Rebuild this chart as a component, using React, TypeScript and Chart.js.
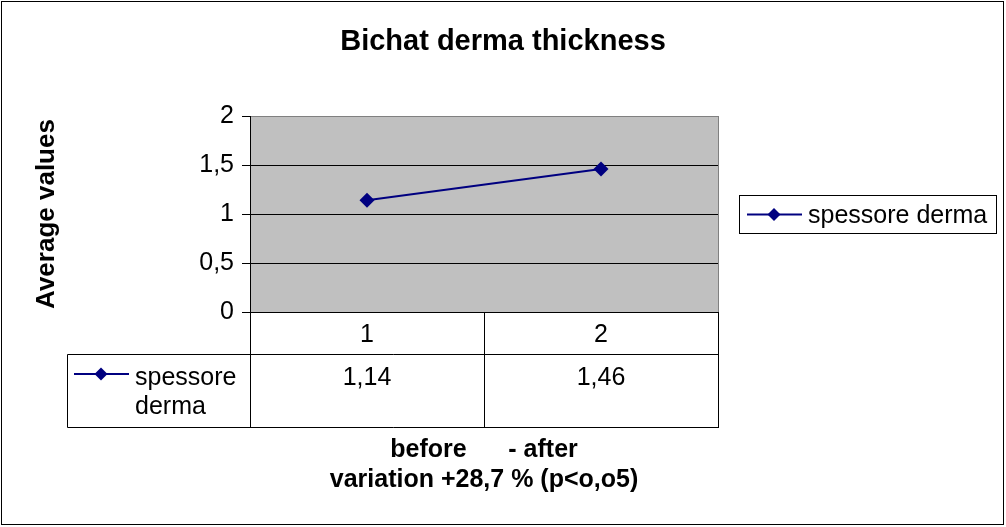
import React, { useEffect, useRef } from "react";
import { Chart, registerables } from "chart.js";

Chart.register(...registerables);

const TITLE = "Bichat derma thickness";
const Y_TITLE = "Average values";
const X_TITLE_LINES = ["before      - after", "variation +28,7 % (p<o,o5)"];
const CATEGORIES = ["1", "2"];
const SERIES_NAME = "spessore derma";
const SERIES_TABLE_LINES = ["spessore", "derma"];
const SERIES_VALUES = [1.14, 1.46];
const Y_MIN = 0;
const Y_MAX = 2;
const Y_STEP = 0.5;

const FONT = "'Liberation Sans', Arial, sans-serif";
const NAVY = "#000080";

const fmt = (v: number) => String(v).replace(".", ",");

function drawMarker(ctx: CanvasRenderingContext2D, x1: number, x2: number, y: number, cx: number, r: number) {
  ctx.save();
  ctx.strokeStyle = NAVY;
  ctx.lineWidth = 2;
  ctx.beginPath();
  ctx.moveTo(x1, y);
  ctx.lineTo(x2, y);
  ctx.stroke();
  ctx.fillStyle = NAVY;
  ctx.beginPath();
  ctx.moveTo(cx, y - r);
  ctx.lineTo(cx + r, y);
  ctx.lineTo(cx, y + r);
  ctx.lineTo(cx - r, y);
  ctx.closePath();
  ctx.fill();
  ctx.restore();
}

const decorPlugin = {
  id: "decor",
  beforeDraw(chart: any) {
    const { ctx, chartArea: a, width, height } = chart;
    ctx.save();
    ctx.fillStyle = "#ffffff";
    ctx.fillRect(0, 0, width, height);
    ctx.fillStyle = "#C0C0C0";
    ctx.fillRect(a.left, a.top, a.right - a.left, a.bottom - a.top);
    ctx.restore();
  },
  afterDraw(chart: any) {
    const { ctx, chartArea: a, width } = chart;
    const xs = chart.scales.x;
    ctx.save();

    // plot area right border (gray)
    ctx.strokeStyle = "#808080";
    ctx.lineWidth = 1;
    ctx.beginPath();
    ctx.moveTo(a.right + 0.5, a.top);
    ctx.lineTo(a.right + 0.5, a.bottom);
    ctx.stroke();

    // data table
    const rowSplit = 354.5;
    const tableBottom = 427.5;
    const tableLeft = 67.5;
    const mid = Math.round((xs.getPixelForValue(0) + xs.getPixelForValue(1)) / 2) + 0.5;
    ctx.strokeStyle = "#000";
    ctx.beginPath();
    ctx.moveTo(a.left + 0.5, a.bottom);
    ctx.lineTo(a.left + 0.5, tableBottom);
    ctx.moveTo(mid, a.bottom);
    ctx.lineTo(mid, tableBottom);
    ctx.moveTo(a.right + 0.5, a.bottom);
    ctx.lineTo(a.right + 0.5, tableBottom);
    ctx.moveTo(tableLeft, rowSplit);
    ctx.lineTo(tableLeft, tableBottom);
    ctx.moveTo(tableLeft, rowSplit);
    ctx.lineTo(a.right + 1, rowSplit);
    ctx.moveTo(tableLeft, tableBottom);
    ctx.lineTo(a.right + 1, tableBottom);
    ctx.stroke();

    ctx.fillStyle = "#000";
    ctx.font = `25px ${FONT}`;
    ctx.textAlign = "center";
    ctx.textBaseline = "alphabetic";
    CATEGORIES.forEach((c, i) => {
      const x = xs.getPixelForValue(i);
      ctx.fillText(c, x, 342);
      ctx.fillText(fmt(SERIES_VALUES[i]), x, 385);
    });
    ctx.textAlign = "left";
    ctx.fillText(SERIES_TABLE_LINES[0], 135, 385);
    ctx.fillText(SERIES_TABLE_LINES[1], 135, 414);
    drawMarker(ctx, 74, 129, 374, 101, 6.5);

    // legend
    ctx.strokeStyle = "#000";
    ctx.lineWidth = 1;
    ctx.strokeRect(739.5, 195.5, 257, 38);
    drawMarker(ctx, 747, 802, 214.5, 774, 6.5);
    ctx.fillStyle = "#000";
    ctx.font = `25px ${FONT}`;
    ctx.textAlign = "left";
    ctx.fillText(SERIES_NAME, 808, 223);

    // titles
    ctx.font = `bold 29px ${FONT}`;
    ctx.textAlign = "center";
    ctx.fillText(TITLE, width / 2, 50);

    ctx.font = `bold 25px ${FONT}`;
    const cx = (a.left + a.right) / 2;
    ctx.fillText(X_TITLE_LINES[0], cx, 457);
    ctx.fillText(X_TITLE_LINES[1], cx, 487);

    ctx.save();
    ctx.font = `bold 26px ${FONT}`;
    ctx.translate(47, (a.top + a.bottom) / 2);
    ctx.rotate(-Math.PI / 2);
    ctx.textBaseline = "middle";
    ctx.fillText(Y_TITLE, 0, 0);
    ctx.restore();

    // outer border
    ctx.strokeStyle = "#000";
    ctx.lineWidth = 1;
    ctx.strokeRect(1.5, 1.5, 1002, 523);
    ctx.restore();
  },
};

export default function App() {
  const ref = useRef<HTMLCanvasElement | null>(null);
  useEffect(() => {
    if (!ref.current) return;
    const chart = new Chart(ref.current, {
      type: "line",
      data: {
        labels: CATEGORIES,
        datasets: [
          {
            label: SERIES_NAME,
            data: SERIES_VALUES,
            borderColor: NAVY,
            backgroundColor: NAVY,
            borderWidth: 2,
            pointStyle: "rectRot",
            pointRadius: 7.5,
            pointBorderWidth: 0,
            pointBackgroundColor: NAVY,
            tension: 0,
          },
        ],
      },
      options: {
        animation: false,
        responsive: false,
        devicePixelRatio: 1,
        layout: { padding: { left: 0, right: 288, top: 116, bottom: 215 } },
        plugins: {
          legend: { display: false },
          title: { display: false },
          tooltip: { enabled: false },
        },
        scales: {
          x: {
            type: "category",
            display: false,
            offset: true,
          },
          y: {
            min: Y_MIN,
            max: Y_MAX,
            ticks: {
              stepSize: Y_STEP,
              callback: (v: any) => fmt(Number(v)),
              font: { family: FONT, size: 25 },
              color: "#000",
              padding: 8,
            },
            grid: {
              color: (c: any) => (c.tick && c.tick.value === Y_MAX ? "#808080" : "#000"),
              tickColor: "#000",
              lineWidth: 1,
              tickLength: 8,
              drawTicks: true,
            },
            border: { color: "#000", width: 1 },
            afterFit: (s: any) => {
              s.width = 250;
            },
          },
        },
      },
      plugins: [decorPlugin],
    } as any);
    return () => chart.destroy();
  }, []);
  return (
    <div style={{ position: "fixed", left: 0, top: 0, width: 1006, height: 527 }}>
      <canvas ref={ref} width={1006} height={527} style={{ display: "block" }} />
    </div>
  );
}
